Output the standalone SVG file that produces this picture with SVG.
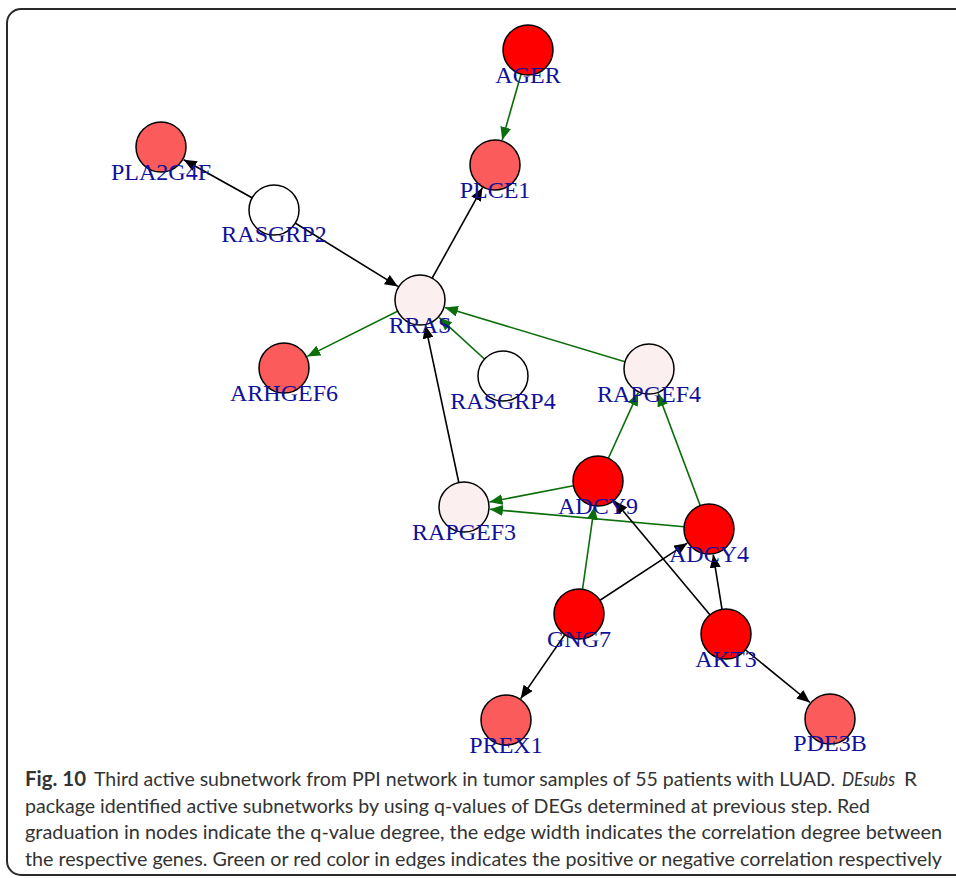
<svg xmlns="http://www.w3.org/2000/svg" width="956" height="878" viewBox="0 0 956 878">
<style>
.node circle{stroke:#000;stroke-width:1.5}
.red{fill:#ff0000}
.mid{fill:#fb5b5b}
.pale{fill:#fcefef}
.white{fill:#ffffff}
.lbl{font-family:"Liberation Serif","Times New Roman",serif;font-size:24px;fill:#10109a;text-anchor:middle}
.e{stroke-width:1.6;fill:none}
.g{stroke:#0a6e0a;marker-end:url(#ag)}
.k{stroke:#000;marker-end:url(#ak)}
.cap{font-family:Lato,"Open Sans",sans-serif;font-size:20px;fill:#333333}
</style>
<defs>
<marker id="ak" markerUnits="userSpaceOnUse" markerWidth="14" markerHeight="11" refX="13" refY="5.5" orient="auto"><path d="M0,0 L13,5.5 L0,11 z" fill="#000"/></marker>
<marker id="ag" markerUnits="userSpaceOnUse" markerWidth="14" markerHeight="11" refX="13" refY="5.5" orient="auto"><path d="M0,0 L13,5.5 L0,11 z" fill="#0a6e0a"/></marker>
</defs>
<rect x="0" y="0" width="956" height="878" fill="#fff"/>
<rect x="7" y="9" width="980" height="866" rx="14" ry="14" fill="none" stroke="#2a2a2a" stroke-width="2"/>
<g id="edges">
<line class="e g" x1="528" y1="50" x2="502.2" y2="140.0"/>
<line class="e k" x1="274" y1="210" x2="183.7" y2="159.7"/>
<line class="e k" x1="274" y1="210" x2="397.9" y2="286.4"/>
<line class="e k" x1="420" y1="300" x2="482.4" y2="187.7"/>
<line class="e g" x1="420" y1="300" x2="307.3" y2="356.4"/>
<line class="e g" x1="503" y1="376" x2="439.2" y2="317.6"/>
<line class="e g" x1="649" y1="369" x2="444.9" y2="307.5"/>
<line class="e k" x1="464" y1="507" x2="425.4" y2="325.4"/>
<line class="e g" x1="598" y1="481" x2="638.2" y2="392.7"/>
<line class="e g" x1="709" y1="529" x2="658.1" y2="393.3"/>
<line class="e g" x1="598" y1="481" x2="489.5" y2="502.0"/>
<line class="e g" x1="709" y1="529" x2="489.9" y2="509.3"/>
<line class="e g" x1="579" y1="614" x2="594.3" y2="506.7"/>
<line class="e k" x1="579" y1="614" x2="687.2" y2="543.2"/>
<line class="e k" x1="726" y1="634" x2="614.7" y2="500.9"/>
<line class="e k" x1="726" y1="634" x2="713.2" y2="554.7"/>
<line class="e k" x1="579" y1="614" x2="520.7" y2="698.6"/>
<line class="e k" x1="726" y1="634" x2="809.9" y2="702.5"/>
</g>
<g id="AGER" class="node"><circle class="red" cx="528" cy="50" r="25"/><text class="lbl" x="528" y="82.5">AGER</text></g>
<g id="PLA2G4F" class="node"><circle class="mid" cx="161" cy="147" r="25"/><text class="lbl" x="161" y="179.5">PLA2G4F</text></g>
<g id="PLCE1" class="node"><circle class="mid" cx="495" cy="165" r="25"/><text class="lbl" x="495" y="197.5">PLCE1</text></g>
<g id="RASGRP2" class="node"><circle class="white" cx="274" cy="210" r="25"/><text class="lbl" x="274" y="242">RASGRP2</text></g>
<g id="RRAS" class="node"><circle class="pale" cx="420" cy="300" r="25"/><text class="lbl" x="420" y="332.5">RRAS</text></g>
<g id="ARHGEF6" class="node"><circle class="mid" cx="284" cy="368" r="25"/><text class="lbl" x="284" y="401">ARHGEF6</text></g>
<g id="RASGRP4" class="node"><circle class="white" cx="503" cy="376" r="25"/><text class="lbl" x="503" y="408.5">RASGRP4</text></g>
<g id="RAPGEF4" class="node"><circle class="pale" cx="649" cy="369" r="25"/><text class="lbl" x="649" y="401.5">RAPGEF4</text></g>
<g id="RAPGEF3" class="node"><circle class="pale" cx="464" cy="507" r="25"/><text class="lbl" x="464" y="539.5">RAPGEF3</text></g>
<g id="ADCY9" class="node"><circle class="red" cx="598" cy="481" r="25"/><text class="lbl" x="598" y="513.5">ADCY9</text></g>
<g id="ADCY4" class="node"><circle class="red" cx="709" cy="529" r="25"/><text class="lbl" x="709" y="561.5">ADCY4</text></g>
<g id="GNG7" class="node"><circle class="red" cx="579" cy="614" r="25"/><text class="lbl" x="579" y="646.5">GNG7</text></g>
<g id="AKT3" class="node"><circle class="red" cx="726" cy="634" r="25"/><text class="lbl" x="726" y="666.5">AKT3</text></g>
<g id="PREX1" class="node"><circle class="mid" cx="506" cy="720" r="25"/><text class="lbl" x="506" y="752.5">PREX1</text></g>
<g id="PDE3B" class="node"><circle class="mid" cx="830" cy="719" r="25"/><text class="lbl" x="830" y="751">PDE3B</text></g>
<g id="caption">
<text class="cap" x="25" y="786" font-weight="bold" textLength="61" lengthAdjust="spacingAndGlyphs">Fig. 10</text>
<text class="cap" x="94" y="786" font-size="18.4" textLength="741" lengthAdjust="spacingAndGlyphs">Third active subnetwork from PPI network in tumor samples of 55 patients with LUAD.</text>
<text class="cap" x="842" y="786" font-style="italic" font-size="19" textLength="53" lengthAdjust="spacingAndGlyphs">DEsubs</text>
<text class="cap" x="904" y="786" textLength="13" lengthAdjust="spacingAndGlyphs">R</text>
<text class="cap" x="25" y="812.7" textLength="845" lengthAdjust="spacingAndGlyphs">package identified active subnetworks by using q-values of DEGs determined at previous step. Red</text>
<text class="cap" x="25" y="839.3" textLength="917" lengthAdjust="spacingAndGlyphs">graduation in nodes indicate the q-value degree, the edge width indicates the correlation degree between</text>
<text class="cap" x="25" y="866" textLength="917" lengthAdjust="spacingAndGlyphs">the respective genes. Green or red color in edges indicates the positive or negative correlation respectively</text>
</g>
</svg>
